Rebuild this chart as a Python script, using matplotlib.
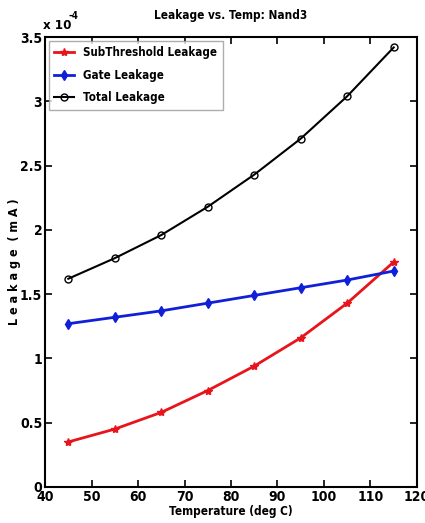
import numpy as np
import matplotlib
matplotlib.use('Agg')
import matplotlib.pyplot as plt
from matplotlib.ticker import FuncFormatter

plt.rcParams['font.family'] = ['DejaVu Sans']
plt.rcParams['font.stretch'] = 'condensed'
plt.rcParams['font.weight'] = 'bold'
plt.rcParams['axes.titleweight'] = 'bold'
plt.rcParams['axes.labelweight'] = 'bold'

temps = [45, 55, 65, 75, 85, 95, 105, 115]
subthreshold = [0.35e-4, 0.45e-4, 0.58e-4, 0.75e-4, 0.94e-4, 1.16e-4, 1.43e-4, 1.75e-4]
gate = [1.27e-4, 1.32e-4, 1.37e-4, 1.43e-4, 1.49e-4, 1.55e-4, 1.61e-4, 1.68e-4]
total = [1.62e-4, 1.78e-4, 1.96e-4, 2.18e-4, 2.43e-4, 2.71e-4, 3.04e-4, 3.42e-4]

fig = plt.figure(figsize=(4.25, 5.23), dpi=100)
ax = fig.add_axes([0.106, 0.069, 0.875, 0.86])

ax.plot(temps, subthreshold, color='#e8141b', lw=2, marker='*', ms=6, label='SubThreshold Leakage')
ax.plot(temps, gate, color='#1020d8', lw=2, marker='d', ms=5, label='Gate Leakage')
ax.plot(temps, total, color='black', lw=1.5, marker='o', ms=5, mfc='none', label='Total Leakage')

ax.set_xlim(40, 120)
ax.set_ylim(0, 3.5e-4)
ax.set_xticks(np.arange(40, 121, 10))
ax.set_yticks(np.arange(0, 3.51e-4, 0.5e-4))
ax.yaxis.set_major_formatter(FuncFormatter(lambda v, p: f'{v / 1e-4:g}'))
ax.tick_params(direction='in', top=True, right=True, labelsize=10, length=5, width=1.2, pad=2)
for s in ax.spines.values():
    s.set_linewidth(1.5)

# exponent label, MATLAB style
ax.text(-0.005, 1.012, 'x 10', transform=ax.transAxes, fontsize=9.5, ha='left', va='bottom')
ax.text(0.064, 1.036, '-4', transform=ax.transAxes, fontsize=7, ha='left', va='bottom')
ax.set_title('Leakage vs. Temp: Nand3', fontsize=8.5, pad=13)
ax.set_xlabel('Temperature (deg C)', fontsize=8.5, labelpad=1)
ax.set_ylabel('L e a k a g e  ( m A )', fontsize=9, labelpad=-1)

leg = ax.legend(loc='upper left', fontsize=8.3, frameon=True, fancybox=False,
                edgecolor='#999999', borderaxespad=0.3, handlelength=1.7,
                labelspacing=0.8, borderpad=0.5)
leg.get_frame().set_linewidth(1.0)

fig.savefig('out.png', dpi=100)
